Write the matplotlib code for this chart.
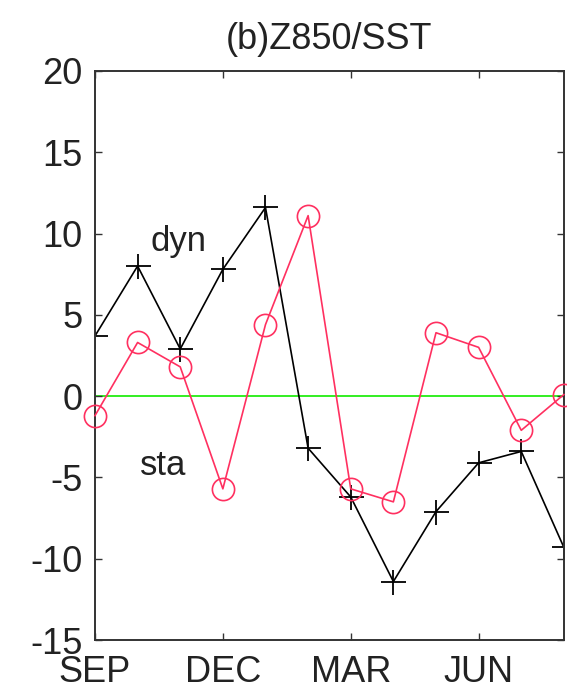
import matplotlib
matplotlib.use('Agg')
import matplotlib.pyplot as plt

months = list(range(12))
tick_pos = [0, 3, 6, 9]
tick_labels = ['SEP', 'DEC', 'MAR', 'JUN']
dyn = [3.7, 8.0, 2.9, 7.8, 11.6, -3.2, -6.2, -11.4, -7.1, -4.1, -3.4, -9.3]
sta = [-1.2, 3.3, 1.8, -5.7, 4.4, 11.1, -5.7, -6.5, 3.9, 3.0, -2.1, 0.1]

plt.rcParams['font.family'] = ['Liberation Sans', 'DejaVu Sans']
plt.rcParams['axes.unicode_minus'] = False

fig = plt.figure(figsize=(5.67, 6.95), dpi=100)
ax = fig.add_axes([0.1675, 0.079, 0.827, 0.819])

ax.axhline(0, color='#33ee22', lw=1.4, zorder=1)
ax.plot(months, dyn, color='black', lw=1.2, marker='+', ms=18, mew=1.3, zorder=2)
ax.plot(months, sta, color='#ff3060', lw=1.2, marker='o', ms=16, mfc='none', mew=1.2, zorder=3, clip_on=False)

ax.text(1.95, 9.5, 'dyn', fontsize=25, ha='center', va='center', color='#222222')
ax.text(1.6, -4.25, 'sta', fontsize=25, ha='center', va='center', color='#222222')

ax.set_xlim(0, 11)
ax.set_ylim(-15, 20)
ax.set_xticks(tick_pos)
ax.set_xticklabels(tick_labels)
ax.set_yticks([-15, -10, -5, 0, 5, 10, 15, 20])
ax.tick_params(direction='in', top=True, right=True, labelsize=26, length=5, width=1, color='#333333', labelcolor='#222222')
ax.tick_params(axis='y', pad=9)
ax.tick_params(axis='x', pad=11)
for s in ax.spines.values():
    s.set_linewidth(1.4)
    s.set_color('#333333')

ax.set_title('(b)Z850/SST', fontsize=26, pad=16, color='#222222')

fig.savefig('out.png', dpi=100)
